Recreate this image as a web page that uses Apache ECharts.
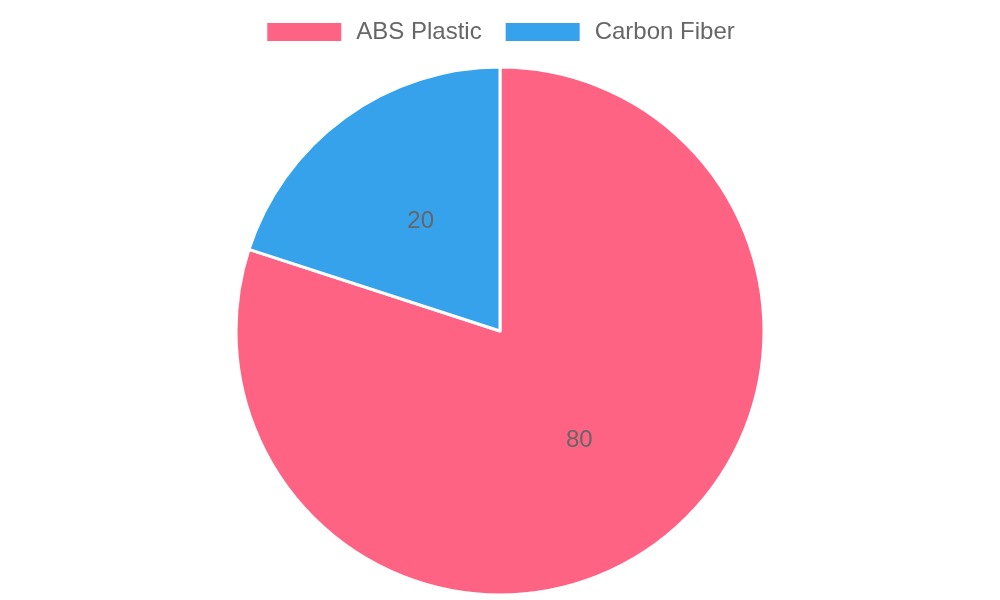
<!DOCTYPE html>
<html>
<head>
<meta charset="utf-8">
<script src="https://cdn.jsdelivr.net/npm/echarts@6/dist/echarts.min.js"></script>
<style>
  html, body { margin: 0; padding: 0; background: #fff; }
  #pie { width: 1000px; height: 600px; }
</style>
</head>
<body>
<div id="pie"></div>
<script>
var materials = ['ABS Plastic', 'Carbon Fiber'];
var shares = [80, 20];
var colors = ['#FF6384', '#36A2EB'];

(function() {
    var myChart = echarts.init(document.getElementById('pie'));
    var data = materials.map(function(name, i) {
        return { name: name, value: shares[i] };
    });
    var option = {
        animation: false,
        color: colors,
        legend: {
            top: 20,
            left: 'center',
            padding: 0,
            itemWidth: 76,
            itemHeight: 20,
            itemGap: 22,
            icon: 'rect',
            textStyle: {
                fontFamily: 'Liberation Sans, Arial, sans-serif',
                fontSize: 24,
                lineHeight: 24,
                color: '#666',
                padding: [0, 0, 0, 9]
            },
            data: materials
        },
        series: [
            {
                type: 'pie',
                center: [500, 331],
                radius: 264,
                startAngle: 90,
                clockwise: true,
                itemStyle: {
                    borderColor: '#fff',
                    borderWidth: 3
                },
                label: {
                    show: true,
                    position: 'inner',
                    formatter: '{c}',
                    fontFamily: 'Liberation Sans, Arial, sans-serif',
                    fontSize: 24,
                    color: '#666'
                },
                labelLine: { show: false },
                emphasis: { scale: false },
                data: data
            }
        ]
    };
    myChart.setOption(option);
    window.addEventListener('resize', function() {
        myChart.resize();
    });
})();
</script>
</body>
</html>
